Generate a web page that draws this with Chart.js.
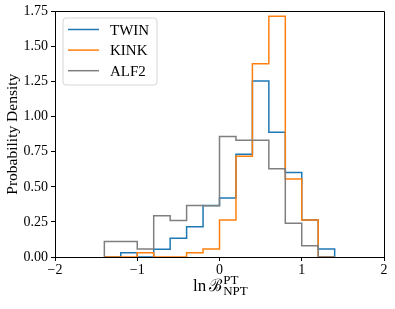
<!DOCTYPE html>
<html lang="en">
<head>
<meta charset="UTF-8">
<title>ln B histogram</title>
<style>
    html, body { margin: 0; padding: 0; background: #fff; }
    #wrap { width: 395px; height: 309px; }
</style>
</head>
<body>
<div id="wrap"><canvas id="histChart" width="395" height="309"></canvas></div>
<script src="https://cdn.jsdelivr.net/npm/chart.js@4"></script>
<script>
// bin edges along ln B (bins are 0.2 wide)
const binEdges = [-1.4, -1.2, -1.0, -0.8, -0.6, -0.4, -0.2, 0.0, 0.2, 0.4, 0.6, 0.8, 1.0, 1.2, 1.4];
const seriesNames = ['TWIN', 'KINK', 'ALF2'];
const seriesColors = ['#1f77b4', '#ff7f0e', '#7f7f7f'];
// probability density per bin
const twinDensity = [0, 0.031, 0, 0.055, 0.133, 0.216, 0.367, 0.42, 0.733, 1.254, 0.889, 0.602, 0.263, 0.057];
const kinkDensity = [0, 0, 0.031, 0, 0, 0.031, 0.057, 0.263, 0.718, 1.377, 1.716, 0.555, 0.263, 0];
const alf2Density = [0.11, 0.11, 0.057, 0.294, 0.26, 0.367, 0.365, 0.858, 0.832, 0.832, 0.628, 0.24, 0.08, 0];
const xTicks = [-2, -1, 0, 1, 2];
const yTicks = [0, 0.25, 0.5, 0.75, 1.0, 1.25, 1.5, 1.75];

const SERIF = '"Liberation Serif", "DejaVu Serif", serif';

// outline of a step histogram, like matplotlib histtype='step'
function stepPoints(values) {
    const pts = [{ x: binEdges[0], y: 0 }];
    values.forEach((v, i) => {
        pts.push({ x: binEdges[i], y: v });
        pts.push({ x: binEdges[i + 1], y: v });
    });
    pts.push({ x: binEdges[binEdges.length - 1], y: 0 });
    return pts;
}

const allSeries = [twinDensity, kinkDensity, alf2Density];

const datasets = allSeries.map((vals, i) => ({
    label: seriesNames[i],
    data: stepPoints(vals),
    borderColor: seriesColors[i],
    borderWidth: 1.5,
    borderJoinStyle: 'miter',
    borderCapStyle: 'butt',
    pointRadius: 0,
    fill: false,
    tension: 0,
    order: allSeries.length - i   // later series on top
}));

function minus(v) {
    return v < 0 ? '\u2212' + Math.abs(v) : String(v);
}

// titles, top/right spines and the legend box
const extras = {
    id: 'extras',
    afterDatasetsDraw(chart) {
        const ctx = chart.ctx;
        const a = chart.chartArea;
        ctx.save();

        // top + right spines
        ctx.strokeStyle = '#000';
        ctx.lineWidth = 1;
        ctx.beginPath();
        ctx.moveTo(Math.round(a.left) + 0.5, Math.round(a.top) + 0.5);
        ctx.lineTo(Math.round(a.right) + 0.5, Math.round(a.top) + 0.5);
        ctx.lineTo(Math.round(a.right) + 0.5, Math.round(a.bottom) + 0.5);
        ctx.stroke();

        // legend
        const lx = 63, ly = 18, lw = 94, lh = 67, r = 3;
        ctx.beginPath();
        ctx.moveTo(lx + r, ly);
        ctx.arcTo(lx + lw, ly, lx + lw, ly + lh, r);
        ctx.arcTo(lx + lw, ly + lh, lx, ly + lh, r);
        ctx.arcTo(lx, ly + lh, lx, ly, r);
        ctx.arcTo(lx, ly, lx + lw, ly, r);
        ctx.closePath();
        ctx.fillStyle = 'rgba(255,255,255,0.8)';
        ctx.fill();
        ctx.strokeStyle = '#d6d6d6';
        ctx.lineWidth = 1;
        ctx.stroke();

        ctx.font = '15px ' + SERIF;
        ctx.textBaseline = 'alphabetic';
        ctx.textAlign = 'left';
        seriesNames.forEach((name, i) => {
            const y = 29.5 + i * 20.6;
            ctx.strokeStyle = seriesColors[i];
            ctx.lineWidth = 1.5;
            ctx.beginPath();
            ctx.moveTo(68, y);
            ctx.lineTo(99, y);
            ctx.stroke();
            ctx.fillStyle = '#000';
            ctx.fillText(name, 110, y + 5);
        });

        // y axis title
        ctx.save();
        ctx.translate(13, (a.top + a.bottom) / 2);
        ctx.rotate(-Math.PI / 2);
        ctx.textAlign = 'center';
        ctx.textBaseline = 'middle';
        ctx.font = '15.5px ' + SERIF;
        ctx.fillStyle = '#000';
        ctx.fillText('Probability Density', 0, 0);
        ctx.restore();

        // x axis title: ln B^PT_NPT
        ctx.fillStyle = '#000';
        ctx.textAlign = 'left';
        let x = 193;
        ctx.font = '17px ' + SERIF;
        ctx.fillText('ln', x, 291);
        x += ctx.measureText('ln').width + 3;
        // calligraphic B, squeezed to the width it has in the reference
        ctx.font = '17px ' + SERIF;
        const bw = ctx.measureText('\u212C').width;
        ctx.save();
        ctx.translate(x, 291);
        ctx.scale(Math.min(1, 13 / bw), 1);
        ctx.fillText('\u212C', 0, 0);
        ctx.restore();
        x += Math.min(bw, 13) + 1;
        ctx.font = '13px ' + SERIF;
        ctx.fillText('PT', x, 284);
        ctx.fillText('NPT', x, 295);

        ctx.restore();
    }
};

Chart.defaults.font.family = SERIF;
Chart.defaults.color = '#000';

new Chart(document.getElementById('histChart'), {
    type: 'line',
    data: { datasets: datasets },
    options: {
        responsive: false,
        animation: false,
        events: [],
        layout: { padding: { top: 11, right: 11, left: 0, bottom: 0 } },
        plugins: {
            legend: { display: false },
            tooltip: { enabled: false }
        },
        scales: {
            x: {
                type: 'linear',
                min: -2,
                max: 2,
                afterBuildTicks: s => { s.ticks = xTicks.map(v => ({ value: v })); },
                afterFit: s => { s.height = 52; },
                grid: { display: true, drawOnChartArea: false, drawTicks: true, tickLength: 4, color: '#000' },
                border: { display: true, color: '#000', width: 1 },
                ticks: {
                    font: { size: 14 },
                    padding: 1,
                    maxRotation: 0,
                    callback: v => minus(v)
                }
            },
            y: {
                type: 'linear',
                min: 0,
                max: 1.75,
                afterBuildTicks: s => { s.ticks = yTicks.map(v => ({ value: v })); },
                afterFit: s => { s.width = 55; },
                grid: { display: true, drawOnChartArea: false, drawTicks: true, tickLength: 4, color: '#000' },
                border: { display: true, color: '#000', width: 1 },
                ticks: {
                    font: { size: 14 },
                    padding: 3,
                    callback: v => v.toFixed(2)
                }
            }
        }
    },
    plugins: [extras]
});
</script>
</body>
</html>
